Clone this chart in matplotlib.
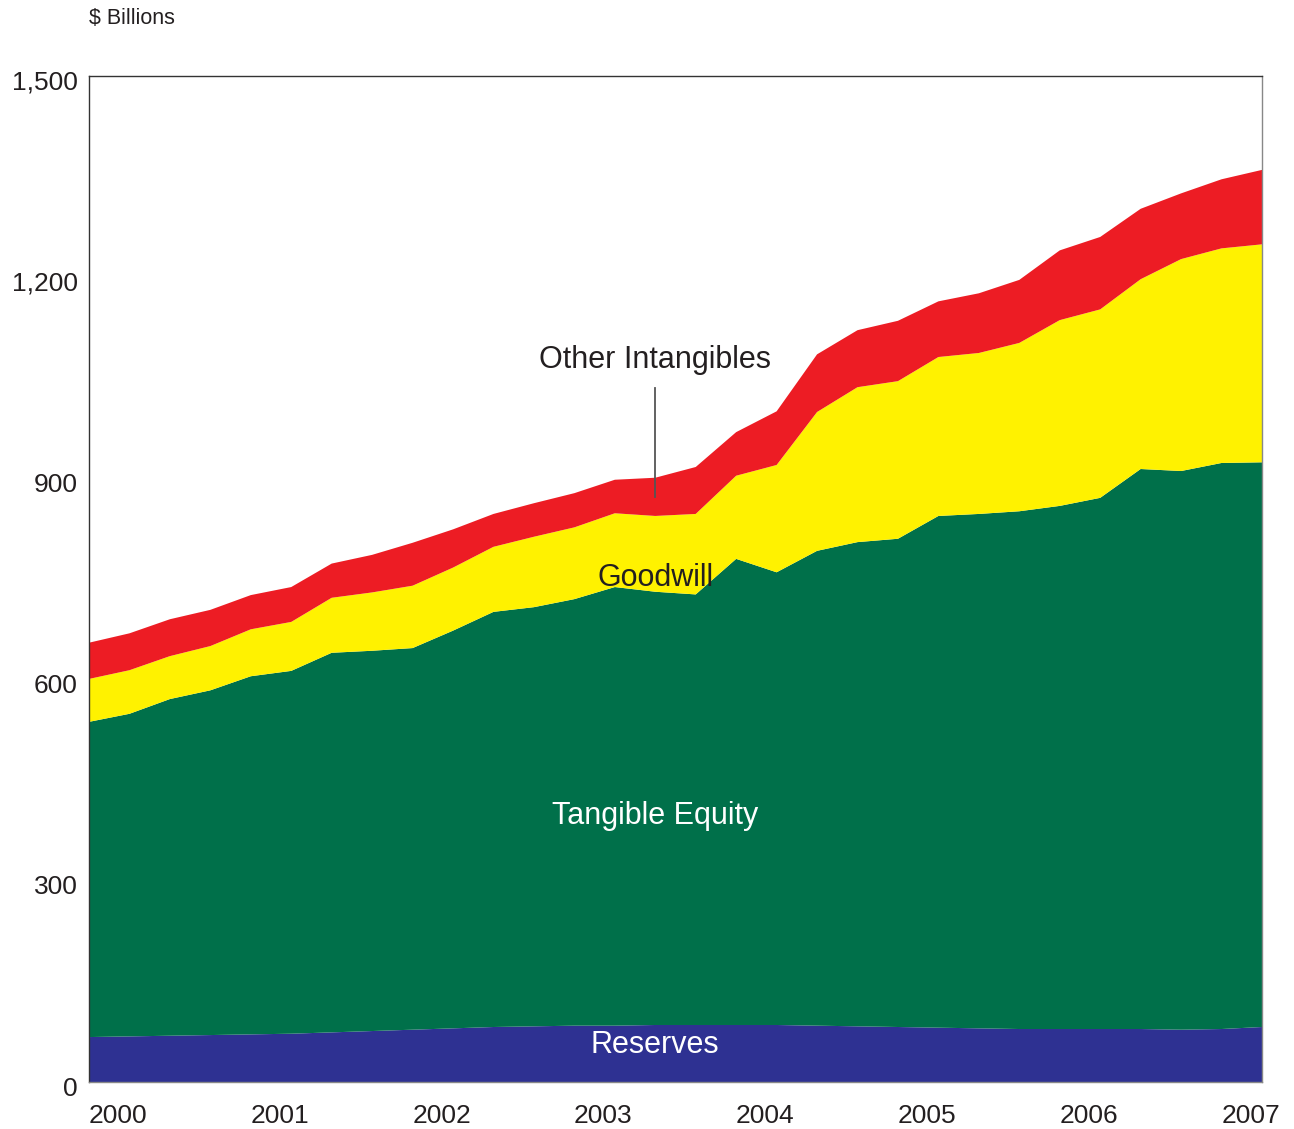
import matplotlib
matplotlib.use("Agg")
import matplotlib.pyplot as plt
import matplotlib.transforms as mtrans

plt.rcParams['font.family'] = ['Liberation Sans', 'DejaVu Sans']

# Quarterly data, 2000 Q1 .. 2007 Q2 ($ billions)
quarters = list(range(30))
reserves = [67, 68, 69, 70, 71, 72, 74, 76, 78, 80, 82, 83, 84, 84, 85,
            85, 85, 85, 84, 83, 82, 81, 80, 79, 79, 79, 79, 78, 79, 82]
tangible_equity = [470, 481, 502, 514, 534, 541, 566, 567, 569, 593, 619, 625, 636, 654, 646,
                   642, 695, 675, 708, 722, 728, 763, 767, 772, 780, 792, 835, 833, 844, 842]
goodwill = [64, 65, 64, 66, 70, 73, 82, 87, 93, 94, 97, 105, 107, 110, 113,
            120, 124, 160, 207, 231, 235, 237, 240, 251, 277, 281, 283, 316, 320, 325]
other_intangibles = [54, 55, 55, 54, 51, 52, 51, 56, 64, 57, 49, 50, 51, 50, 57,
                     70, 65, 80, 86, 85, 90, 83, 89, 94, 104, 108, 105, 98, 103, 111]

year_labels = ['2000', '2001', '2002', '2003', '2004', '2005', '2006', '2007']
y_ticks = [0, 300, 600, 900, 1200, 1500]

colors = ['#2E3192', '#00704A', '#FFF200', '#ED1C24']

fig = plt.figure(figsize=(12.94, 11.29), dpi=100)
ax = fig.add_axes([89/1294, 1 - 1082/1129, (1262-89)/1294, (1082-76)/1129])

ax.stackplot(quarters, reserves, tangible_equity, goodwill, other_intangibles,
             colors=colors, linewidth=0)

ax.set_xlim(0, 29)
ax.set_ylim(0, 1500)

year_pos = [0.717 + 4*i for i in range(len(year_labels))]
ax.set_xticks(year_pos)
ax.set_xticklabels(year_labels, fontsize=19, color='#231F20')
ax.set_yticks(y_ticks)
ax.set_yticklabels([f"{v:,}" for v in y_ticks], fontsize=19, color='#231F20')
ax.tick_params(axis='both', length=0)
ax.tick_params(axis='x', pad=16)
ax.tick_params(axis='y', pad=8)
for s in ax.spines.values():
    s.set_color('#333333')
    s.set_linewidth(1.0)
ax.spines['right'].set_color('#888888')
ax.spines['bottom'].set_color('#888888')

off = mtrans.ScaledTranslation(0, -4/100, fig.dpi_scale_trans)
for lbl in ax.get_yticklabels():
    lbl.set_transform(lbl.get_transform() + off)

fig.text(89/1294, 1 - 19/1129, '$ Billions', fontsize=15.5, color='#231F20',
         ha='left', va='center')

ax.text(14, 1077, 'Other Intangibles', fontsize=22, color='#231F20', ha='center', va='center')
ax.plot([14, 14], [872, 1035], color='#555555', linewidth=1.3)
ax.text(14, 751, 'Goodwill', fontsize=22, color='#231F20', ha='center', va='center')
ax.text(14, 396, 'Tangible Equity', fontsize=22, color='white', ha='center', va='center')
ax.text(14, 55, 'Reserves', fontsize=22, color='white', ha='center', va='center')

fig.savefig('out.png', dpi=100)
